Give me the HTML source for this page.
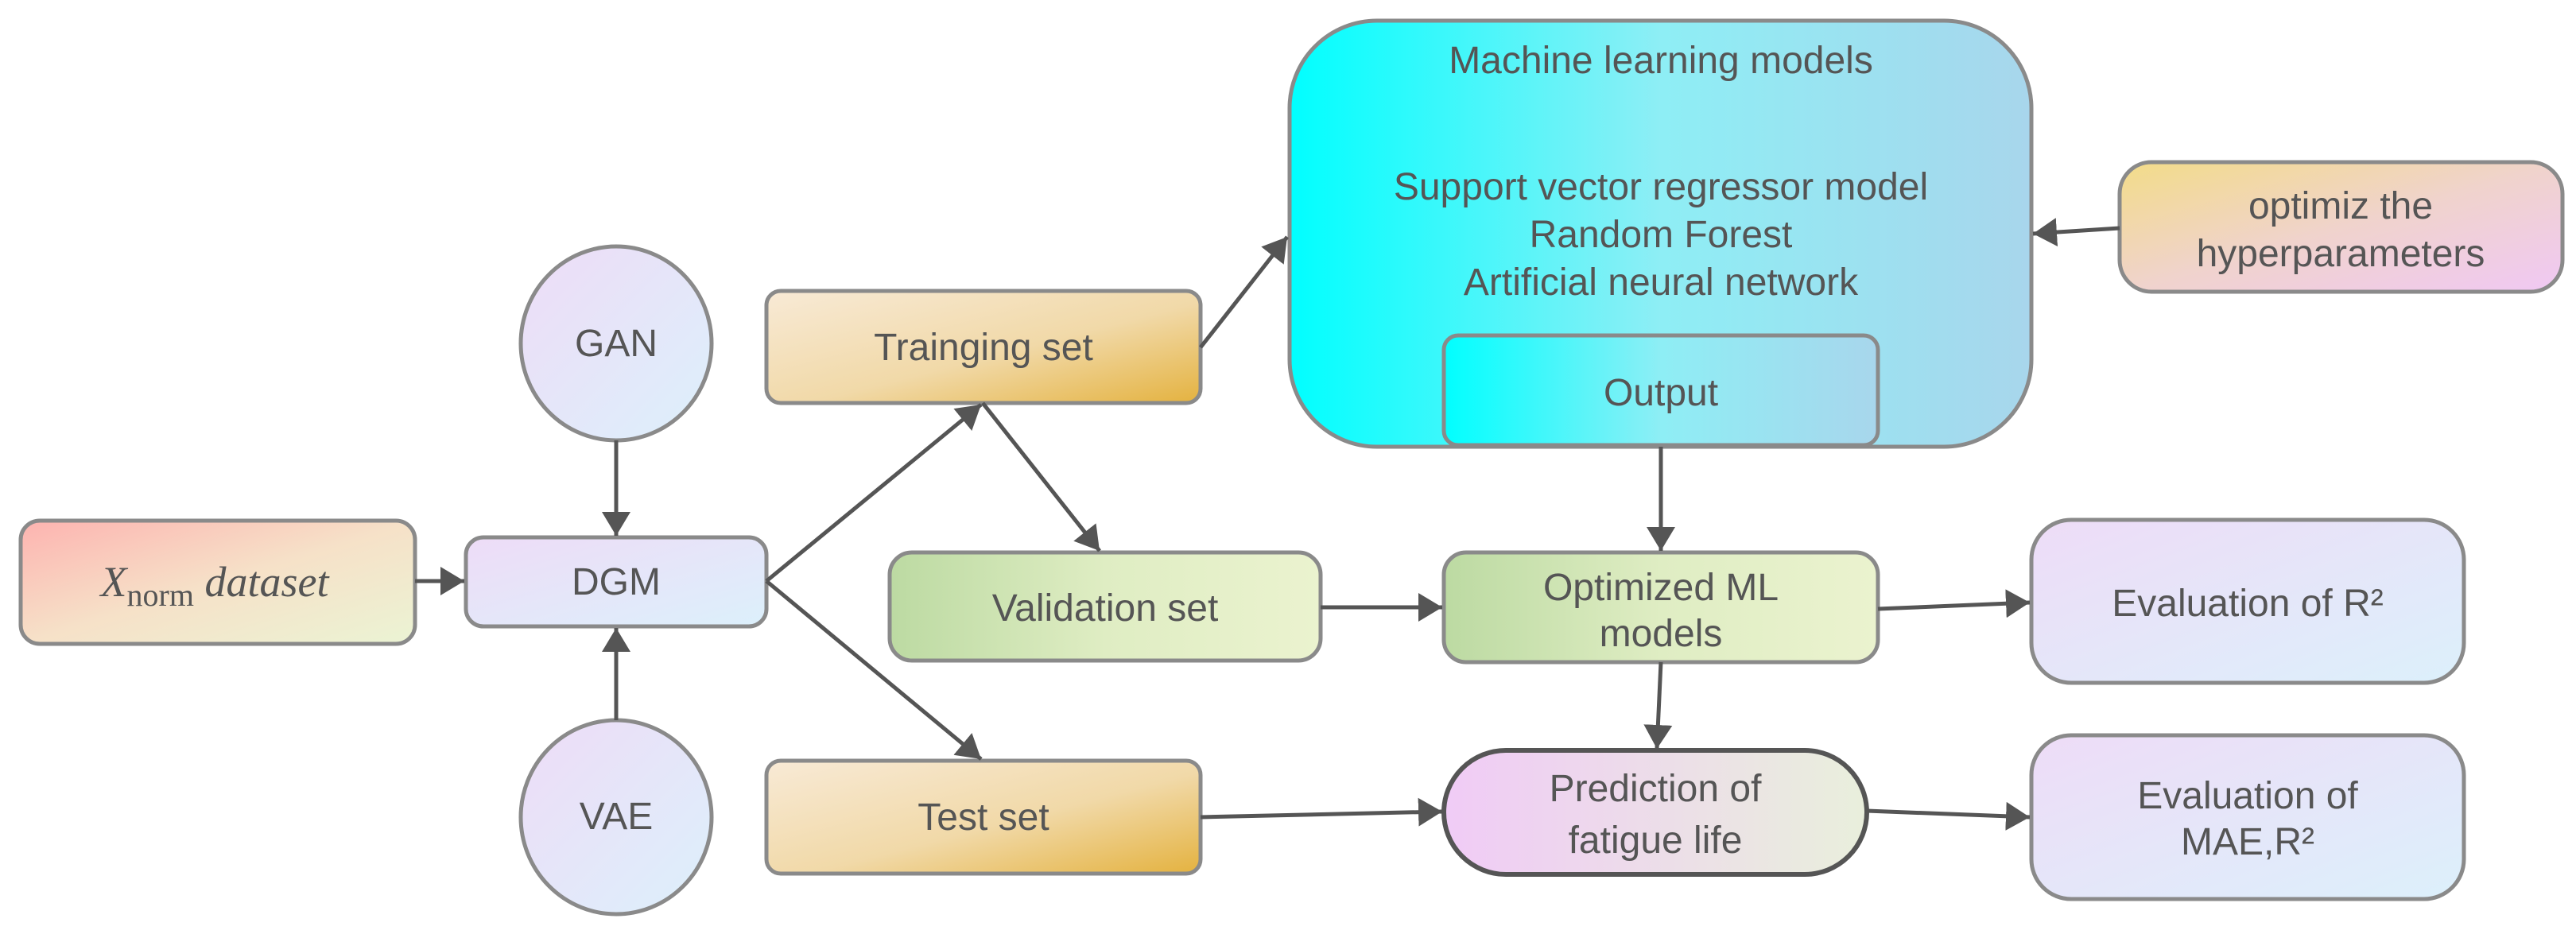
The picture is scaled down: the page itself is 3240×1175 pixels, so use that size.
<!DOCTYPE html>
<html><head><meta charset="utf-8"><style>
html,body{margin:0;padding:0;background:#fff;}
svg{display:block;}
text{font-family:"Liberation Sans",Arial,sans-serif;fill:#555;font-size:48px;text-anchor:middle;}
</style></head><body>
<svg width="3240" height="1175" viewBox="0 0 3240 1175" xmlns="http://www.w3.org/2000/svg">
<defs>
<linearGradient id="gx" x1="0" y1="0" x2="1" y2="1"><stop offset="0" stop-color="#fdb3b0"/><stop offset="0.5" stop-color="#f6e1c8"/><stop offset="1" stop-color="#ebf4d4"/></linearGradient>
<linearGradient id="gl" x1="0" y1="0" x2="1" y2="1"><stop offset="0" stop-color="#eedcf7"/><stop offset="1" stop-color="#dcf0fb"/></linearGradient>
<linearGradient id="gt" x1="0" y1="0" x2="1" y2="1"><stop offset="0" stop-color="#f8ead6"/><stop offset="0.55" stop-color="#f1d9a8"/><stop offset="1" stop-color="#e4b23f"/></linearGradient>
<linearGradient id="gv" x1="0" y1="0" x2="1" y2="0"><stop offset="0" stop-color="#bcdaa2"/><stop offset="0.5" stop-color="#dfedc3"/><stop offset="1" stop-color="#ebf3cf"/></linearGradient>
<linearGradient id="gm" x1="0" y1="0" x2="1" y2="0"><stop offset="0" stop-color="#00ffff"/><stop offset="0.5" stop-color="#8eeef5"/><stop offset="1" stop-color="#a8d6ec"/></linearGradient>
<linearGradient id="go" x1="0" y1="0" x2="1" y2="1"><stop offset="0" stop-color="#f3dc88"/><stop offset="0.5" stop-color="#f0d3cc"/><stop offset="1" stop-color="#f0c8f4"/></linearGradient>
<linearGradient id="gp" x1="0" y1="0" x2="1" y2="0"><stop offset="0" stop-color="#f0cbf6"/><stop offset="1" stop-color="#e9efdc"/></linearGradient>
<marker id="ar" markerWidth="7" markerHeight="8" refX="6" refY="3.6" orient="auto" markerUnits="strokeWidth"><path d="M0,0 L6,3.6 L0,7.2 Z" fill="#555"/></marker>
</defs>
<g stroke="#8a8a8a" stroke-width="5">
<rect x="26" y="655" width="496" height="155" rx="24" fill="url(#gx)"/>
<rect x="586" y="676" width="378" height="112" rx="22" fill="url(#gl)"/>
<ellipse cx="775" cy="432" rx="120" ry="122" fill="url(#gl)"/>
<ellipse cx="775" cy="1028" rx="120" ry="122" fill="url(#gl)"/>
<rect x="964" y="366" width="546" height="141" rx="18" fill="url(#gt)"/>
<rect x="1119" y="695" width="542" height="136" rx="28" fill="url(#gv)"/>
<rect x="964" y="957" width="546" height="142" rx="18" fill="url(#gt)"/>
<rect x="1622" y="26" width="933" height="536" rx="110" fill="url(#gm)"/>
<rect x="1816" y="422" width="546" height="138" rx="18" fill="url(#gm)"/>
<rect x="2666" y="204" width="557" height="163" rx="40" fill="url(#go)"/>
<rect x="1816" y="695" width="546" height="138" rx="28" fill="url(#gv)"/>
<rect x="2555" y="654" width="544" height="205" rx="50" fill="url(#gl)"/>
<rect x="2555" y="925" width="544" height="206" rx="50" fill="url(#gl)"/>
<rect x="1816" y="944" width="532" height="156" rx="78" fill="url(#gp)" stroke="#555" stroke-width="6"/>
</g>
<g stroke="#555" stroke-width="5" fill="none" marker-end="url(#ar)">
<line x1="775" y1="554" x2="775" y2="674"/>
<line x1="775" y1="906" x2="775" y2="790"/>
<line x1="522" y1="731" x2="584" y2="731"/>
<line x1="964" y1="731" x2="1234" y2="509"/>
<line x1="964" y1="731" x2="1234" y2="955"/>
<line x1="1236" y1="507" x2="1383" y2="693"/>
<line x1="1510" y1="437" x2="1619" y2="298"/>
<line x1="1661" y1="764" x2="1814" y2="764"/>
<line x1="2089" y1="562" x2="2089" y2="693"/>
<line x1="2666" y1="287" x2="2557" y2="294"/>
<line x1="2362" y1="766" x2="2553" y2="758"/>
<line x1="2089" y1="833" x2="2084" y2="942"/>
<line x1="1510" y1="1028" x2="1814" y2="1021"/>
<line x1="2348" y1="1020" x2="2553" y2="1028"/>
</g>
<text x="270" y="750" style="font-family:'Liberation Serif',serif;font-size:54px;"><tspan font-style="italic">X</tspan><tspan font-size="40" dy="12">norm</tspan><tspan font-style="italic" dy="-12"> dataset</tspan></text>
<text x="775" y="748">DGM</text>
<text x="775" y="448" font-size="42">GAN</text>
<text x="775" y="1043" font-size="42">VAE</text>
<text x="1237" y="453">Trainging set</text>
<text x="1390" y="781">Validation set</text>
<text x="1237" y="1044">Test set</text>
<text x="2089" y="92">Machine learning models</text>
<text x="2089" y="251">Support vector regressor model</text>
<text x="2089" y="311">Random Forest</text>
<text x="2089" y="371">Artificial neural network</text>
<text x="2089" y="510">Output</text>
<text x="2944" y="275">optimiz the</text>
<text x="2944" y="335">hyperparameters</text>
<text x="2089" y="755">Optimized ML</text>
<text x="2089" y="813">models</text>
<text x="2827" y="775">Evaluation of R²</text>
<text x="2082" y="1008" font-size="52">Prediction of</text>
<text x="2082" y="1073" font-size="52">fatigue life</text>
<text x="2827" y="1017">Evaluation of</text>
<text x="2827" y="1075">MAE,R²</text>
</svg>
</body></html>
